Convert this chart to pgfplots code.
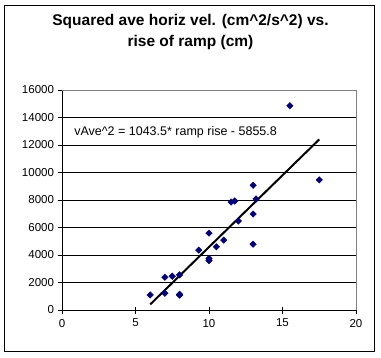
\documentclass[border=0pt]{standalone}
\usepackage{pgfplots}
\pgfplotsset{compat=1.18}
\usepackage{fontspec}
\setmainfont{Liberation Sans}
\begin{document}
\begin{tikzpicture}
\begin{axis}[
  at={(0pt,0pt)}, anchor=origin,
  scale only axis, width=294pt, height=220pt,
  xmin=0, xmax=20, ymin=0, ymax=16000,
  xtick={0,5,...,20}, ytick={0,2000,...,16000},
  axis lines*=left,
  axis line style={black, line width=0.8pt},
  ymajorgrids, grid style={black, line width=0.8pt},
  tick style={black, line width=0.8pt},
  tick align=center, major tick length=7pt,
  scaled y ticks=false,
  /pgf/number format/assume math mode=true,
  /pgf/number format/1000 sep={},
  ticklabel style={font=\fontsize{11.5}{13}\selectfont},
  yticklabel style={xshift=-1pt},
  xticklabel style={yshift=-2pt},
  clip=false,
]
\draw[gray, line width=0.8pt] (rel axis cs:0,1) -- (rel axis cs:1,1) -- (rel axis cs:1,0);
\addplot[only marks, mark=square*, mark size=2.3pt, mark options={rotate=45, fill={rgb,255:red,0;green,0;blue,128}, draw={rgb,255:red,0;green,0;blue,128}}] coordinates {
(6,1094) (7,2383) (7,1216) (7.5,2456) (8,2553) (8,1150) (8,1080)
(9.3,4353) (10,5593) (10,3750) (10,3600) (10.5,4596) (11,5082)
(11.5,7854) (11.75,7927) (12,6468) (13,9070) (13,6979) (13,4790)
(13.2,8073) (15.5,14857) (17.5,9459)
};
\addplot[black, line width=2pt, no marks] coordinates {(6,405.2) (17.5,12405.5)};
\node[anchor=west, inner sep=0pt, font=\fontsize{12.5}{14}\selectfont] at (axis cs:0.82,12890) {vAve\^{}2 = 1043.5* ramp rise - 5855.8};
\end{axis}
\path[use as bounding box] (-62pt,-47pt) rectangle (319pt,310pt);
\draw[line width=1pt] (-57pt,-41pt) rectangle (312pt,305pt);
\node[font=\bfseries\fontsize{15.5}{21}\selectfont, align=center] at (128.5pt,278pt) {Squared ave horiz vel. (cm\^{}2/s\^{}2) vs.\\rise of ramp (cm)};
\end{tikzpicture}
\end{document}
